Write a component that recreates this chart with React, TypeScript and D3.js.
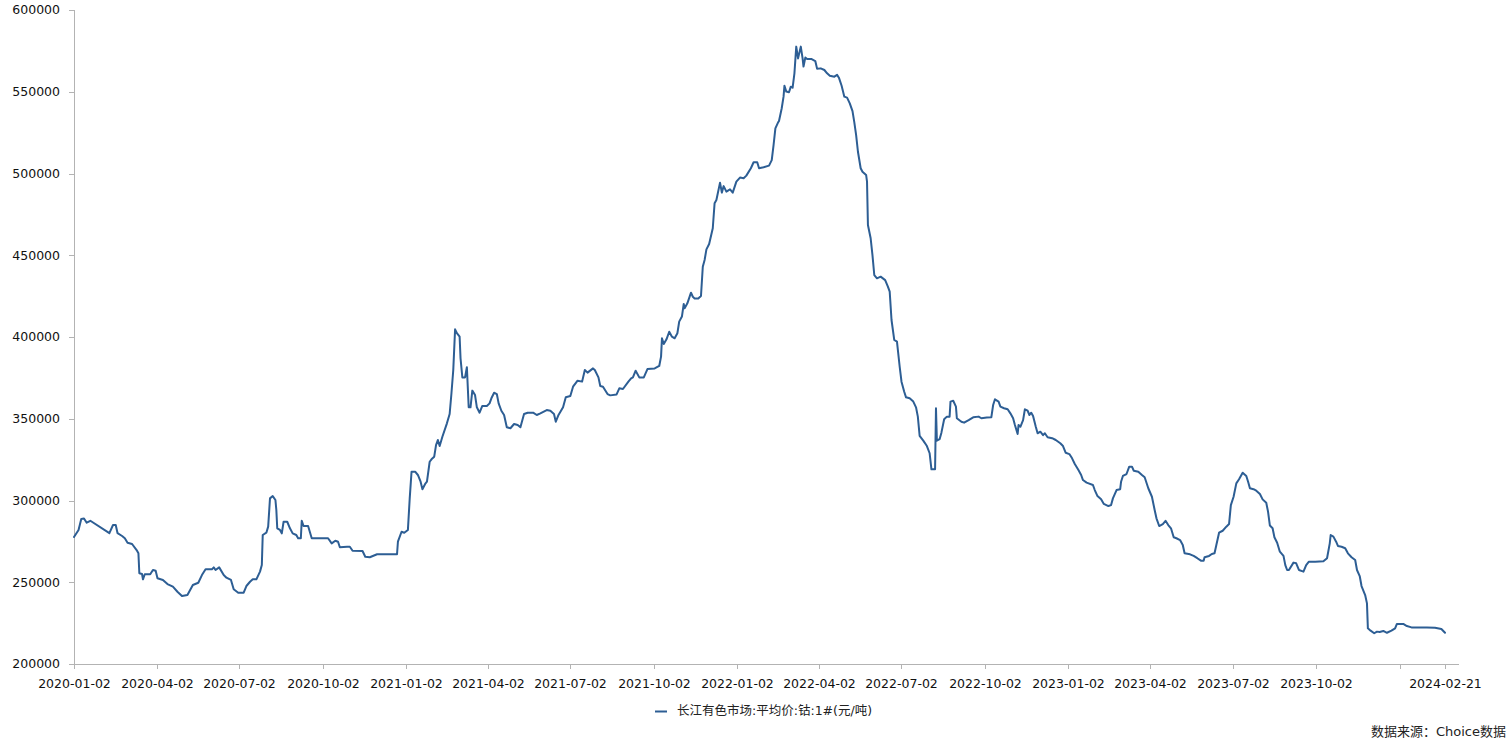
import React from 'react';
import * as d3 from 'd3';

const dates = [
  "2020-01-02","2020-01-07","2020-01-10","2020-01-13","2020-01-16","2020-01-20","2020-02-10","2020-02-14","2020-02-17","2020-02-19",
  "2020-02-24","2020-02-27","2020-03-01","2020-03-06","2020-03-11","2020-03-13","2020-03-14","2020-03-17","2020-03-18","2020-03-20",
  "2020-03-26","2020-03-29","2020-04-01","2020-04-03","2020-04-09","2020-04-14","2020-04-20","2020-04-25","2020-04-30","2020-05-06",
  "2020-05-12","2020-05-18","2020-05-22","2020-05-26","2020-06-02","2020-06-04","2020-06-06","2020-06-10","2020-06-15","2020-06-18",
  "2020-06-23","2020-06-26","2020-07-01","2020-07-07","2020-07-10","2020-07-14","2020-07-17","2020-07-21","2020-07-25","2020-07-27",
  "2020-07-28","2020-08-01","2020-08-03","2020-08-05","2020-08-08","2020-08-11","2020-08-12","2020-08-13","2020-08-16","2020-08-18",
  "2020-08-20","2020-08-24","2020-08-27","2020-08-30","2020-09-03","2020-09-05","2020-09-08","2020-09-09","2020-09-11","2020-09-16",
  "2020-09-20","2020-10-08","2020-10-12","2020-10-16","2020-10-19","2020-10-21","2020-10-29","2020-11-01","2020-11-04","2020-11-15",
  "2020-11-18","2020-11-23","2020-12-01","2020-12-23","2020-12-24","2020-12-28","2020-12-31","2021-01-04","2021-01-06","2021-01-08",
  "2021-01-12","2021-01-15","2021-01-18","2021-01-20","2021-01-23","2021-01-25","2021-01-28","2021-01-30","2021-02-02","2021-02-04",
  "2021-02-06","2021-02-08","2021-02-11","2021-02-16","2021-02-19","2021-02-21","2021-02-23","2021-02-25","2021-02-27","2021-03-02",
  "2021-03-03","2021-03-05","2021-03-08","2021-03-10","2021-03-12","2021-03-14","2021-03-16","2021-03-19","2021-03-21","2021-03-24",
  "2021-03-27","2021-04-01","2021-04-04","2021-04-06","2021-04-09","2021-04-12","2021-04-14","2021-04-17","2021-04-20","2021-04-23",
  "2021-04-27","2021-05-01","2021-05-05","2021-05-08","2021-05-12","2021-05-16","2021-05-22","2021-05-26","2021-05-30","2021-06-06",
  "2021-06-10","2021-06-14","2021-06-16","2021-06-19","2021-06-24","2021-06-27","2021-07-02","2021-07-05","2021-07-10","2021-07-15",
  "2021-07-18","2021-07-21","2021-07-27","2021-07-29","2021-08-02","2021-08-04","2021-08-07","2021-08-12","2021-08-15","2021-08-22",
  "2021-08-25","2021-08-29","2021-09-04","2021-09-07","2021-09-09","2021-09-12","2021-09-16","2021-09-21","2021-09-25","2021-10-03",
  "2021-10-08","2021-10-10","2021-10-11","2021-10-13","2021-10-16","2021-10-19","2021-10-22","2021-10-25","2021-10-28","2021-10-30",
  "2021-11-02","2021-11-04","2021-11-05","2021-11-08","2021-11-12","2021-11-14","2021-11-16","2021-11-20","2021-11-23","2021-11-25",
  "2021-11-27","2021-11-29","2021-12-02","2021-12-06","2021-12-08","2021-12-10","2021-12-14","2021-12-16","2021-12-18","2021-12-21",
  "2021-12-25","2021-12-28","2022-01-01","2022-01-05","2022-01-09","2022-01-12","2022-01-17","2022-01-20","2022-01-24","2022-01-26",
  "2022-01-31","2022-02-06","2022-02-09","2022-02-11","2022-02-13","2022-02-16","2022-02-17","2022-02-20","2022-02-22","2022-02-23",
  "2022-02-25","2022-02-28","2022-03-02","2022-03-04","2022-03-06","2022-03-08","2022-03-10","2022-03-13","2022-03-15","2022-03-16",
  "2022-03-18","2022-03-20","2022-03-25","2022-03-29","2022-03-31","2022-04-04","2022-04-08","2022-04-11","2022-04-14","2022-04-19",
  "2022-04-22","2022-04-24","2022-04-27","2022-04-30","2022-05-03","2022-05-06","2022-05-09","2022-05-11","2022-05-13","2022-05-15",
  "2022-05-18","2022-05-20","2022-05-24","2022-05-25","2022-05-26","2022-05-29","2022-05-31","2022-06-02","2022-06-05","2022-06-09",
  "2022-06-14","2022-06-17","2022-06-19","2022-06-21","2022-06-24","2022-06-27","2022-06-30","2022-07-02","2022-07-05","2022-07-07",
  "2022-07-11","2022-07-15","2022-07-18","2022-07-20","2022-07-22","2022-07-26","2022-07-30","2022-08-02","2022-08-04","2022-08-08",
  "2022-08-09","2022-08-10","2022-08-13","2022-08-15","2022-08-18","2022-08-21","2022-08-24","2022-08-25","2022-08-28","2022-08-31",
  "2022-09-01","2022-09-06","2022-09-09","2022-09-14","2022-09-19","2022-09-25","2022-09-28","2022-10-04","2022-10-09","2022-10-11",
  "2022-10-13","2022-10-17","2022-10-19","2022-10-23","2022-10-27","2022-10-30","2022-11-02","2022-11-04","2022-11-07","2022-11-08",
  "2022-11-10","2022-11-13","2022-11-15","2022-11-18","2022-11-20","2022-11-22","2022-11-24","2022-11-27","2022-11-29","2022-12-02",
  "2022-12-05","2022-12-07","2022-12-10","2022-12-15","2022-12-19","2022-12-24","2022-12-27","2022-12-30","2023-01-03","2023-01-06",
  "2023-01-09","2023-01-13","2023-01-16","2023-01-18","2023-01-22","2023-01-29","2023-01-31","2023-02-03","2023-02-07","2023-02-10",
  "2023-02-15","2023-02-18","2023-02-20","2023-02-24","2023-02-28","2023-03-01","2023-03-03","2023-03-07","2023-03-10","2023-03-13",
  "2023-03-15","2023-03-20","2023-03-24","2023-03-27","2023-03-31","2023-04-04","2023-04-07","2023-04-09","2023-04-12","2023-04-16",
  "2023-04-19","2023-04-22","2023-04-25","2023-04-28","2023-05-01","2023-05-05","2023-05-08","2023-05-10","2023-05-16","2023-05-20",
  "2023-05-24","2023-05-28","2023-05-31","2023-06-01","2023-06-06","2023-06-09","2023-06-12","2023-06-14","2023-06-17","2023-06-21",
  "2023-06-25","2023-06-28","2023-06-30","2023-07-03","2023-07-06","2023-07-09","2023-07-13","2023-07-17","2023-07-19","2023-07-21",
  "2023-07-25","2023-07-28","2023-08-01","2023-08-04","2023-08-08","2023-08-10","2023-08-12","2023-08-15","2023-08-17","2023-08-20",
  "2023-08-23","2023-08-27","2023-08-29","2023-08-31","2023-09-02","2023-09-07","2023-09-10","2023-09-13","2023-09-18","2023-09-21",
  "2023-09-24","2023-10-01","2023-10-10","2023-10-14","2023-10-17","2023-10-18","2023-10-21","2023-10-24","2023-10-26","2023-10-30",
  "2023-11-03","2023-11-06","2023-11-10","2023-11-14","2023-11-16","2023-11-19","2023-11-21","2023-11-25","2023-11-27","2023-11-28",
  "2023-12-01","2023-12-05","2023-12-08","2023-12-11","2023-12-15","2023-12-19","2023-12-24","2023-12-28","2023-12-30","2024-01-06",
  "2024-01-10","2024-01-15","2024-02-01","2024-02-10","2024-02-17","2024-02-21"
];

const prices = [
  277700,282000,288700,289000,286400,287600,280000,285000,285000,280000,
  278300,276900,274200,273400,269700,267700,255500,255000,251800,254900,
  254900,257500,257000,252400,251400,248900,247300,244200,241600,242200,
  248300,249700,254400,257900,257900,259100,257500,259100,254400,252800,
  251400,245700,243600,243600,247700,250300,251800,251800,256500,260500,
  278900,280300,284000,301300,302700,300300,294200,283000,282000,279900,
  287000,287000,283000,279900,278900,276900,276900,287600,284400,284400,
  276900,276900,273800,275400,274800,271400,271700,271700,269300,269100,
  265600,265300,267100,267100,274800,280900,280300,282000,301300,317600,
  317600,315600,311500,306900,310100,311500,323700,325200,326800,333900,
  337000,333300,339000,347200,352900,365600,379800,404700,402300,400200,
  387000,375300,375300,381500,357000,357000,367200,364500,357000,353700,
  357800,357800,359400,362500,365900,365100,359400,354900,352300,344800,
  344200,346800,346200,344800,352900,353700,353700,352300,353300,355300,
  354900,352900,348200,352300,357000,363100,363900,369600,373300,372700,
  379800,378200,380800,379800,375300,370000,369600,365100,364300,364900,
  368600,368200,372700,374700,375300,379400,375300,375300,380400,380800,
  382300,388000,399200,395700,398600,403200,400200,399200,402300,409400,
  412500,420200,417600,420600,427100,424600,423600,423600,425100,443000,
  447100,453600,456900,466500,481800,483800,494400,488300,492300,488900,
  490300,488300,495000,497500,497100,498700,503200,506900,506900,503200,
  503800,504800,508200,517400,527600,531300,532100,539900,547000,553700,
  550100,549700,553100,552500,561300,577600,570400,577600,570400,565400,
  570900,570000,570000,568800,564000,564300,563300,561300,559800,559200,
  560300,558600,553700,547000,546400,542900,538200,531300,523500,513300,
  503200,501100,499100,495000,468500,460400,450100,437900,435900,436900,
  434800,430800,427700,410400,398200,397200,381800,372700,366500,363100,
  362500,360500,357000,351300,339500,336600,333300,328900,319100,319100,
  356400,336600,337500,341500,349700,351300,351300,360500,361000,357400,
  350300,348200,347600,349200,350900,351300,350300,350700,350900,358400,
  361900,360500,357400,356400,355800,353300,350300,346200,340700,346200,
  345100,349200,355800,354900,352300,353700,351700,345100,341100,342100,
  340000,341100,338700,338100,337000,335000,333300,329200,328400,325800,
  322300,318600,315600,312500,310900,309500,306400,302700,300700,297900,
  296600,297200,301300,306400,306900,311500,315000,316200,320700,320700,
  318200,317600,315600,314200,307500,302300,294200,289100,284400,285600,
  287600,285000,283000,277500,276900,275800,272800,267700,267100,266100,
  264700,263200,263200,265300,266100,267300,267700,272800,280300,281500,
  284000,285600,297200,302300,310500,313000,317000,315000,311500,307500,
  306900,306000,304000,300700,298600,293100,284700,283000,277500,274200,
  268700,266100,260500,257500,257500,262000,261600,257500,256500,260500,
  262600,262600,262800,264700,273800,278900,277900,274800,272200,271700,
  270800,267700,265300,263600,257500,253800,247700,242200,237100,221800,
  220400,218800,219800,219600,220200,219100,220400,221800,224500,224500,
  223200,222400,222400,222200,221400,219100
];

const yTicks = [200000, 250000, 300000, 350000, 400000, 450000, 500000, 550000, 600000];
const xTickDates = [
  "2020-01-02","2020-04-02","2020-07-02","2020-10-02",
  "2021-01-02","2021-04-02","2021-07-02","2021-10-02",
  "2022-01-02","2022-04-02","2022-07-02","2022-10-02",
  "2023-01-02","2023-04-02","2023-07-02","2023-10-02",
  "2024-01-02","2024-02-21"
];
const hiddenTickLabels = ["2024-01-02"];
const seriesName = "长江有色市场:平均价:钴:1#(元/吨)";
const sourceText = "数据来源：Choice数据";

const LINE_COLOR = "#2d5e94";
const AXIS_COLOR = "#b3b3b3";
const FONT = "'DejaVu Sans', 'Noto Sans CJK SC', sans-serif";

export default function App() {
  const W = 1509, H = 751;
  const left = 74, right = 1445, axisEnd = 1459, top = 10, bottom = 664;
  const parse = d3.utcParse("%Y-%m-%d");
  const x = d3.scaleUtc()
    .domain([parse(dates[0]) as Date, parse(dates[dates.length - 1]) as Date])
    .range([left, right]);
  const y = d3.scaleLinear().domain([yTicks[0], yTicks[yTicks.length - 1]]).range([bottom, top]);
  const line = d3.line<number>()
    .x((_, i) => x(parse(dates[i]) as Date))
    .y((d) => y(d));
  const path = line(prices) || "";

  return (
    <svg width={W} height={H} style={{ position: 'absolute', left: 0, top: 0, background: '#fff' }}
      fontFamily={FONT}>
      {/* Y axis */}
      <line x1={left + 0.5} x2={left + 0.5} y1={top} y2={bottom} stroke={AXIS_COLOR} strokeWidth={1} />
      {yTicks.map((t) => (
        <g key={t}>
          <line x1={left - 5} x2={left} y1={Math.round(y(t)) + 0.5} y2={Math.round(y(t)) + 0.5} stroke={AXIS_COLOR} />
          <text x={left - 14} y={y(t)} dy="0.35em" textAnchor="end" fontSize={12.5} fill="#111">{t}</text>
        </g>
      ))}
      {/* X axis */}
      <line x1={left} x2={axisEnd} y1={bottom + 0.5} y2={bottom + 0.5} stroke={AXIS_COLOR} strokeWidth={1} />
      {xTickDates.map((d) => {
        const px = Math.round(x(parse(d) as Date)) + 0.5;
        return (
          <g key={d}>
            <line x1={px} x2={px} y1={bottom} y2={bottom + 5} stroke={AXIS_COLOR} />
            {hiddenTickLabels.includes(d) ? null : (
              <text x={px} y={bottom + 20} dy="0.35em" textAnchor="middle" fontSize={12.5} fill="#111">{d}</text>
            )}
          </g>
        );
      })}
      {/* Series */}
      <path d={path} fill="none" stroke={LINE_COLOR} strokeWidth={2} strokeLinejoin="round" strokeLinecap="round" />
      {/* Legend */}
      <line x1={655} x2={667} y1={711.5} y2={711.5} stroke={LINE_COLOR} strokeWidth={2} />
      <text x={677} y={711} dy="0.35em" fontSize={12.5} fill="#222">{seriesName}</text>
      {/* Source */}
      <text x={1506} y={731} dy="0.35em" textAnchor="end" fontSize={13} fill="#222">{sourceText}</text>
    </svg>
  );
}
